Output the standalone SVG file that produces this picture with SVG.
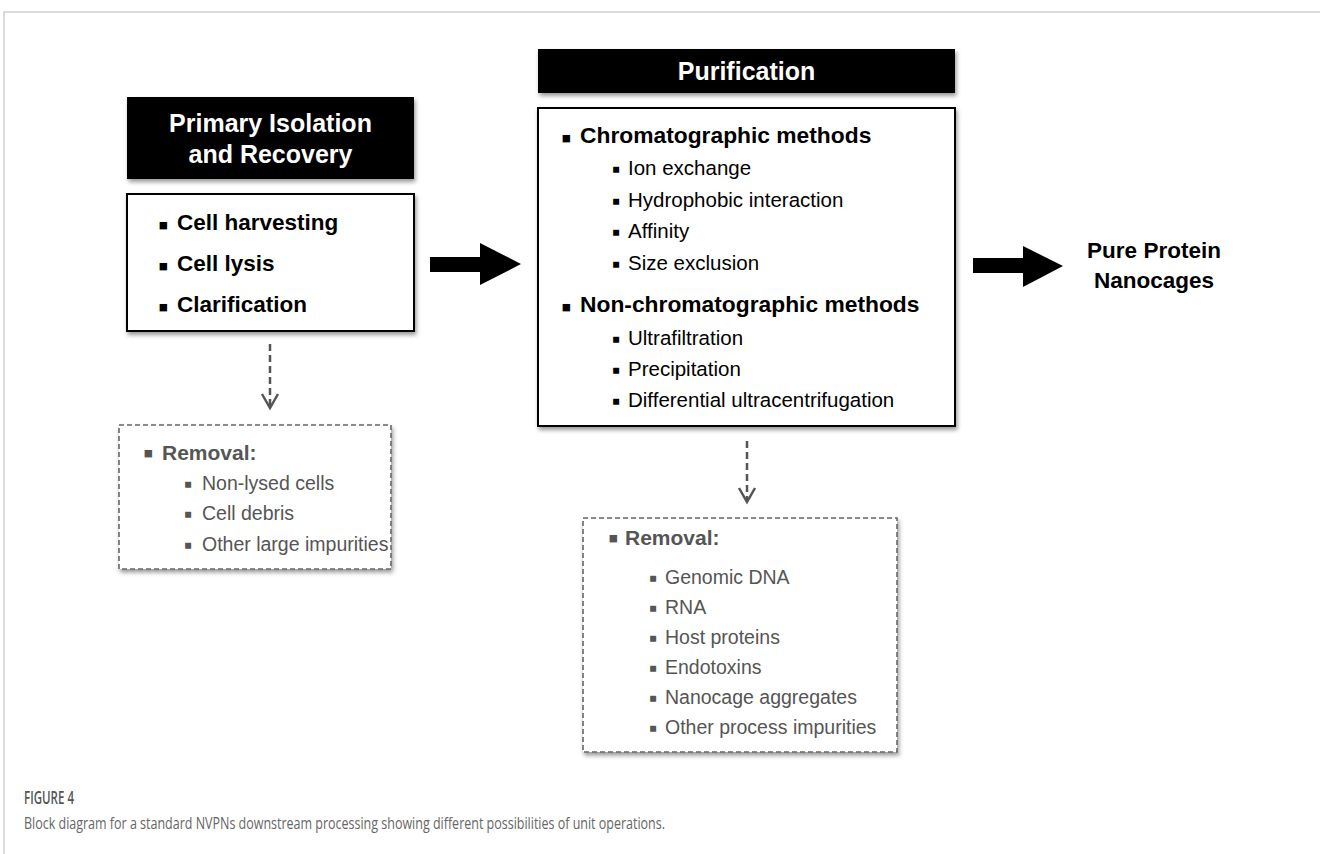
<svg xmlns="http://www.w3.org/2000/svg" width="1320" height="854" viewBox="0 0 1320 854">
<defs>
<filter id="sh" x="-10%" y="-10%" width="120%" height="130%">
<feDropShadow dx="1.5" dy="3" stdDeviation="2" flood-color="#000" flood-opacity="0.4"/>
</filter>
</defs>
<style>
.hdr{fill:#000;filter:url(#sh)}
.htx{font-family:"Liberation Sans",Arial,sans-serif;font-weight:bold;font-size:25px;fill:#fff;text-anchor:middle}
.box{fill:#fff;stroke:#000;stroke-width:2;filter:url(#sh)}
.dbox{fill:#fff;stroke:#666;stroke-width:1.6;stroke-dasharray:5 3;filter:url(#sh)}
.b1{font-family:"Liberation Sans",Arial,sans-serif;font-weight:bold;font-size:22.5px;fill:#000}
.m1{font-family:"Liberation Sans",Arial,sans-serif;font-weight:bold;font-size:22.8px;fill:#000}
.s1{font-family:"Liberation Sans",Arial,sans-serif;font-size:20.5px;fill:#000}
.b2{font-family:"Liberation Sans",Arial,sans-serif;font-weight:bold;font-size:21px;fill:#555}
.s2{font-family:"Liberation Sans",Arial,sans-serif;font-size:19.5px;fill:#555}
.bl{font-family:"Liberation Sans",Arial,sans-serif;font-size:30px}
.bs{font-family:"Liberation Sans",Arial,sans-serif;font-size:24px}
.dash{stroke:#555;stroke-width:2.5;stroke-dasharray:7 4;fill:none}
.chev{stroke:#555;stroke-width:2.5;fill:none}
.cap{font-family:"Open Sans",sans-serif}
</style>
<rect x="0" y="0" width="1320" height="854" fill="#fff"/>
<path d="M4 854 V12 H1320" fill="none" stroke="#d0d0d0" stroke-width="1.5"/>

<g id="primary-header">
<rect class="hdr" x="127" y="97" width="287" height="82"/>
<text class="htx" x="270.5" y="132">Primary Isolation</text>
<text class="htx" x="270.5" y="163">and Recovery</text>
</g>

<g id="primary-box">
<rect class="box" x="127" y="194" width="287" height="137"/>
<text class="bl" x="158" y="235">▪</text>
<text class="b1" x="177" y="230">Cell harvesting</text>
<text class="bl" x="158" y="276">▪</text>
<text class="b1" x="177" y="271">Cell lysis</text>
<text class="bl" x="158" y="317">▪</text>
<text class="b1" x="177" y="312">Clarification</text>
</g>

<g id="purification-header">
<rect class="hdr" x="538" y="49" width="417" height="44"/>
<text class="htx" x="746.5" y="80">Purification</text>
</g>

<g id="purification-box">
<rect class="box" x="538" y="108" width="417" height="318"/>
<text class="bl" x="561" y="148">▪</text>
<text class="m1" x="580" y="143">Chromatographic methods</text>
<text class="bs" x="612" y="177">▪</text>
<text class="s1" x="628" y="175">Ion exchange</text>
<text class="bs" x="612" y="209">▪</text>
<text class="s1" x="628" y="207">Hydrophobic interaction</text>
<text class="bs" x="612" y="240">▪</text>
<text class="s1" x="628" y="238">Affinity</text>
<text class="bs" x="612" y="272">▪</text>
<text class="s1" x="628" y="270">Size exclusion</text>
<text class="bl" x="561" y="317">▪</text>
<text class="m1" x="580" y="312">Non-chromatographic methods</text>
<text class="bs" x="612" y="347">▪</text>
<text class="s1" x="628" y="345">Ultrafiltration</text>
<text class="bs" x="612" y="378">▪</text>
<text class="s1" x="628" y="376">Precipitation</text>
<text class="bs" x="612" y="409">▪</text>
<text class="s1" x="628" y="407">Differential ultracentrifugation</text>
</g>

<g id="product">
<text class="b1" x="1154" y="258" font-size="25.5" text-anchor="middle">Pure Protein</text>
<text class="b1" x="1154" y="288" font-size="25.5" text-anchor="middle">Nanocages</text>
</g>

<g id="removal-1">
<rect class="dbox" x="119" y="425" width="272" height="144"/>
<text class="bl" x="143" y="463" fill="#555" font-size="27">▪</text>
<text class="b2" x="162" y="460">Removal:</text>
<text class="bs" x="184" y="492" fill="#555" font-size="22">▪</text>
<text class="s2" x="202" y="490">Non-lysed cells</text>
<text class="bs" x="184" y="522" fill="#555" font-size="22">▪</text>
<text class="s2" x="202" y="520">Cell debris</text>
<text class="bs" x="184" y="553" fill="#555" font-size="22">▪</text>
<text class="s2" x="202" y="551">Other large impurities</text>
</g>

<g id="removal-2">
<rect class="dbox" x="583" y="518" width="314" height="234"/>
<text class="bl" x="608" y="548" fill="#555" font-size="27">▪</text>
<text class="b2" x="625" y="545">Removal:</text>
<text class="bs" x="649" y="586" fill="#555" font-size="22">▪</text>
<text class="s2" x="665" y="584">Genomic DNA</text>
<text class="bs" x="649" y="616" fill="#555" font-size="22">▪</text>
<text class="s2" x="665" y="614">RNA</text>
<text class="bs" x="649" y="646" fill="#555" font-size="22">▪</text>
<text class="s2" x="665" y="644">Host proteins</text>
<text class="bs" x="649" y="676" fill="#555" font-size="22">▪</text>
<text class="s2" x="665" y="674">Endotoxins</text>
<text class="bs" x="649" y="706" fill="#555" font-size="22">▪</text>
<text class="s2" x="665" y="704">Nanocage aggregates</text>
<text class="bs" x="649" y="736" fill="#555" font-size="22">▪</text>
<text class="s2" x="665" y="734">Other process impurities</text>
</g>

<g id="connectors">
<polygon points="430,257 480,257 480,243 521,264 480,285 480,272 430,272" fill="#000"/>
<polygon points="973,258 1023,258 1023,246 1063,266 1023,287 1023,273 973,273" fill="#000"/>
<line class="dash" x1="270" y1="344" x2="270" y2="406"/>
<polyline class="chev" points="262,394 270,408 278,394"/>
<line class="dash" x1="747" y1="441" x2="747" y2="500"/>
<polyline class="chev" points="739,488 747,502 755,488"/>
</g>

<g id="caption">
<text class="cap" x="24" y="804" font-size="18" font-weight="600" fill="#555" textLength="50" lengthAdjust="spacingAndGlyphs">FIGURE 4</text>
<text class="cap" x="24" y="829" font-size="16.5" fill="#666" textLength="641" lengthAdjust="spacingAndGlyphs">Block diagram for a standard NVPNs downstream processing showing different possibilities of unit operations.</text>
</g>
</svg>
